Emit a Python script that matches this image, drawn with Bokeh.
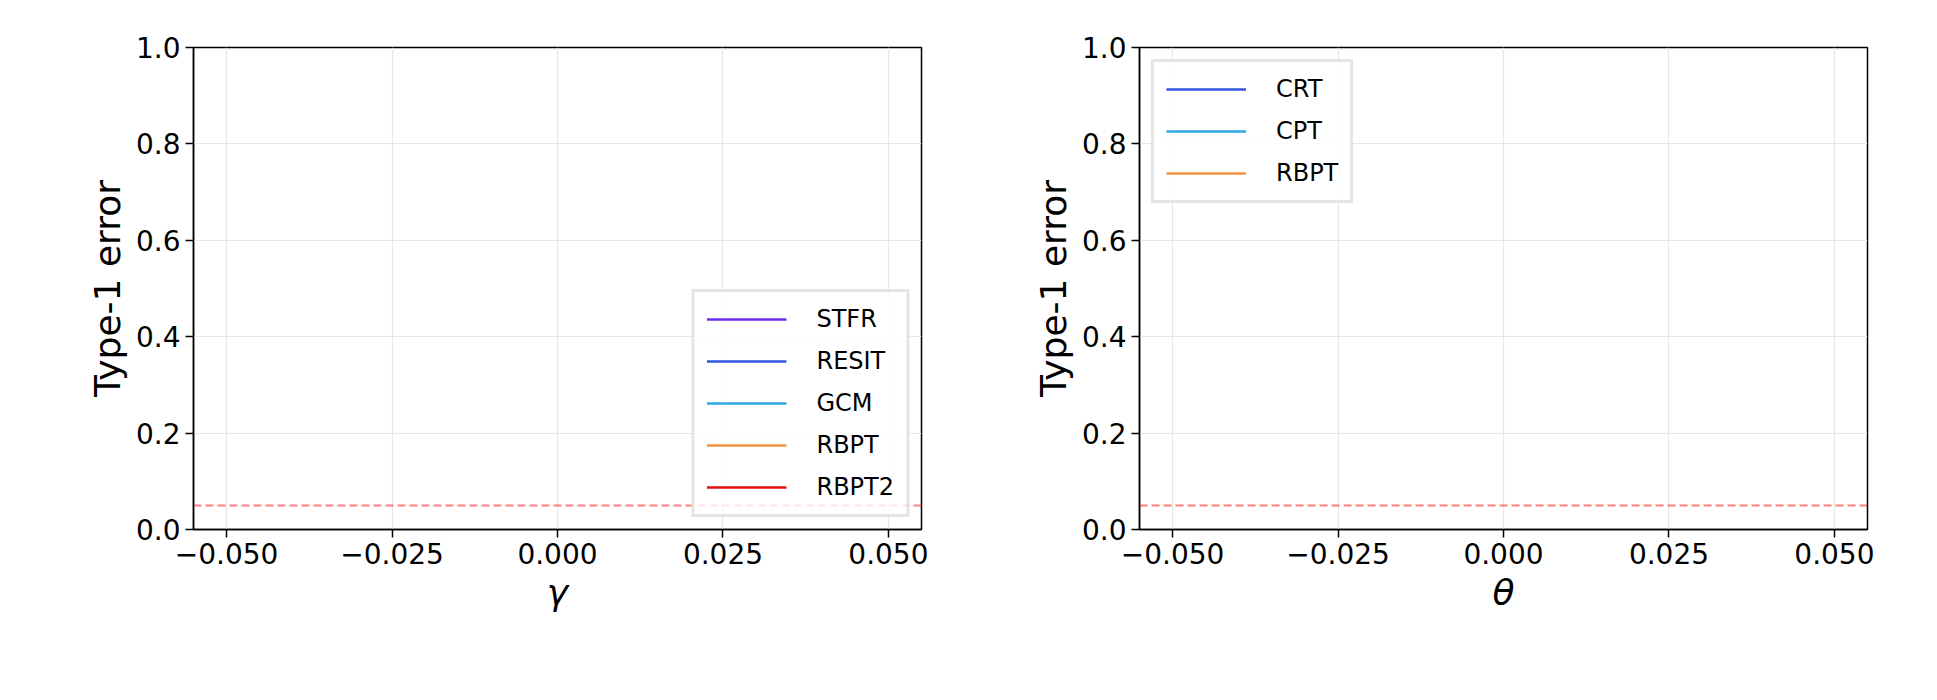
from bokeh.plotting import figure
from bokeh.models import Span, Range1d, FixedTicker, CustomJSTickFormatter, Legend, LegendItem
from bokeh.layouts import row
from bokeh.embed import file_html
from bokeh.resources import INLINE

x_ticks = [-0.05, -0.025, 0.0, 0.025, 0.05]
y_ticks = [0.0, 0.2, 0.4, 0.6, 0.8, 1.0]
alpha_level = 0.05

# no results plotted in the reference: only the legend entries are shown
methods_left = ["STFR", "RESIT", "GCM", "RBPT", "RBPT2"]
colors_left = ["#6e2cf2", "#3355e0", "#2aa8e8", "#f0923e", "#e0110e"]
methods_right = ["CRT", "CPT", "RBPT"]
colors_right = ["#3355e0", "#2aa8e8", "#f0923e"]

FONT = "DejaVu Sans"

def make_panel(xlabel, methods, colors, loc, width, left_border, right_border):
    p = figure(width=width, height=684, output_backend="svg", toolbar_location=None,
               x_range=Range1d(-0.055, 0.055), y_range=Range1d(0, 1),
               min_border_left=left_border, min_border_right=right_border,
               min_border_top=47, min_border_bottom=155)
    p.outline_line_color = "black"
    p.outline_line_width = 1.5
    p.outline_line_alpha = 1
    for ax in (p.xaxis[0], p.yaxis[0]):
        ax.major_tick_out = 8
        ax.major_tick_in = 0
        ax.minor_tick_out = 0
        ax.minor_tick_in = 0
        ax.axis_line_width = 1.5
        ax.major_tick_line_width = 1.5
        ax.major_label_text_font = FONT
        ax.major_label_text_font_size = "28px"
        ax.major_label_text_color = "black"
        ax.axis_label_text_font = FONT
        ax.axis_label_text_font_size = "36px"
        ax.axis_label_text_color = "black"
        ax.axis_label_text_font_style = "normal"
    p.xaxis.ticker = FixedTicker(ticks=x_ticks)
    p.yaxis.ticker = FixedTicker(ticks=y_ticks)
    p.xaxis.formatter = CustomJSTickFormatter(code="return tick.toFixed(3).replace('-', '\u2212');")
    p.yaxis.formatter = CustomJSTickFormatter(code="return tick.toFixed(1);")
    p.xaxis.axis_label = xlabel
    p.xaxis.axis_label_text_font_style = "italic"
    p.yaxis.axis_label = "Type-1 error"
    p.grid.grid_line_color = "#e8e8e8"
    p.grid.grid_line_width = 1.2

    items = []
    for m, c in zip(methods, colors):
        # placeholder outside the visible range so the legend draws its glyph
        r = p.line(x=[1.0, 2.0], y=[5.0, 5.0], line_color=c, line_width=2.5)
        items.append(LegendItem(label=m, renderers=[r]))
    p.add_layout(Span(location=alpha_level, dimension="width", line_color="red",
                      line_alpha=0.5, line_dash="8 4", line_width=2))
    leg = Legend(items=items, location=loc, label_text_font=FONT,
                 label_text_font_size="24px", label_text_color="black",
                 glyph_width=80, glyph_height=30, spacing=12,
                 padding=12, margin=12, border_line_color="#cccccc",
                 border_line_width=3, background_fill_alpha=0.8,
                 label_standoff=30)
    p.add_layout(leg)
    return p

p1 = make_panel("\u03b3", methods_left, colors_left, "bottom_right", 968, 193, 47)
p2 = make_panel("\u03b8", methods_right, colors_right, "top_left", 953, 171, 54)
p = row(p1, p2)
open("out.html", "w").write(file_html(p, INLINE))
